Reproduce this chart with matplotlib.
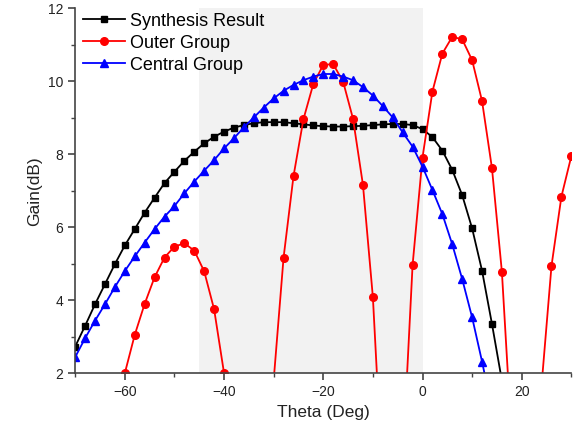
import numpy as np
import matplotlib.pyplot as plt
from matplotlib.ticker import MultipleLocator

plt.rcParams['font.family'] = ['Liberation Sans', 'DejaVu Sans']

# --- data ---
theta_synth = np.arange(-70, 17, 2)
gain_synth = [2.73, 3.30, 3.89, 4.44, 4.99, 5.50, 5.95, 6.40, 6.81, 7.21,
              7.52, 7.82, 8.07, 8.30, 8.48, 8.62, 8.73, 8.80, 8.85, 8.88,
              8.88, 8.88, 8.85, 8.82, 8.79, 8.77, 8.76, 8.76, 8.77, 8.78,
              8.80, 8.82, 8.83, 8.83, 8.80, 8.69, 8.47, 8.10, 7.57, 6.88,
              5.97, 4.81, 3.35, 1.80]

theta_central = np.arange(-70, 15, 2)
gain_central = [2.44, 2.96, 3.44, 3.89, 4.36, 4.80, 5.20, 5.58, 5.95, 6.29,
                6.58, 6.93, 7.25, 7.55, 7.84, 8.16, 8.44, 8.74, 9.01, 9.28,
                9.53, 9.74, 9.90, 10.03, 10.13, 10.20, 10.20, 10.13, 10.03, 9.84,
                9.61, 9.32, 9.01, 8.60, 8.21, 7.66, 7.02, 6.36, 5.53, 4.58,
                3.53, 2.32, 1.00]

theta_outer = np.arange(-60, 31, 2)
gain_outer = [2.00, 3.05, 3.90, 4.63, 5.17, 5.47, 5.56, 5.36, 4.79, 3.75,
              2.00, -2.0, -5.0, -5.0, -2.0, 1.80, 5.17, 7.40, 8.96, 9.93,
              10.45, 10.47, 9.99, 8.97, 7.16, 4.08, -1.1, -5.0, -0.42, 4.96,
              7.91, 9.72, 10.76, 11.22, 11.15, 10.58, 9.46, 7.62, 4.78, 0.14,
              -5.0, -3.0, 1.67, 4.94, 6.84, 7.95]

fig = plt.figure(figsize=(5.83, 4.38), dpi=100)
ax = fig.add_axes([0.129, 0.148, 0.851, 0.833])

# shaded region
ax.axvspan(-45, 0, color='#f2f2f2', zorder=0, lw=0)

ax.plot(theta_synth, gain_synth, color='black', marker='s', ms=4.5, lw=1.3,
        label='Synthesis Result')
ax.plot(theta_outer, gain_outer, color='red', marker='o', ms=5.5, lw=1.3,
        label='Outer Group')
ax.plot(theta_central, gain_central, color='blue', marker='^', ms=6, lw=1.3,
        label='Central Group')

ax.set_xlim(-70, 30)
ax.set_ylim(2, 12)
ax.xaxis.set_major_locator(MultipleLocator(20))
ax.xaxis.set_minor_locator(MultipleLocator(10))
ax.yaxis.set_major_locator(MultipleLocator(2))
ax.yaxis.set_minor_locator(MultipleLocator(1))

for s in ['top', 'right']:
    ax.spines[s].set_visible(False)
for s in ['left', 'bottom']:
    ax.spines[s].set_color('#444444')
    ax.spines[s].set_linewidth(1.2)
ax.tick_params(which='major', direction='out', length=5, width=1.2,
               color='#444444', labelsize=10, labelcolor='#222222')
ax.tick_params(which='minor', direction='out', length=3, width=1.0,
               color='#444444')

ax.set_xlabel('Theta (Deg)', fontsize=12.5, color='#222222')
ax.set_ylabel('Gain(dB)', fontsize=12.5, color='#222222')

ax.legend(loc='upper left', bbox_to_anchor=(-0.006, 1.018), frameon=False,
          fontsize=13, handlelength=2.3, handletextpad=0.3, labelspacing=0.28,
          borderaxespad=0.2)

fig.savefig('out.png', dpi=100)
